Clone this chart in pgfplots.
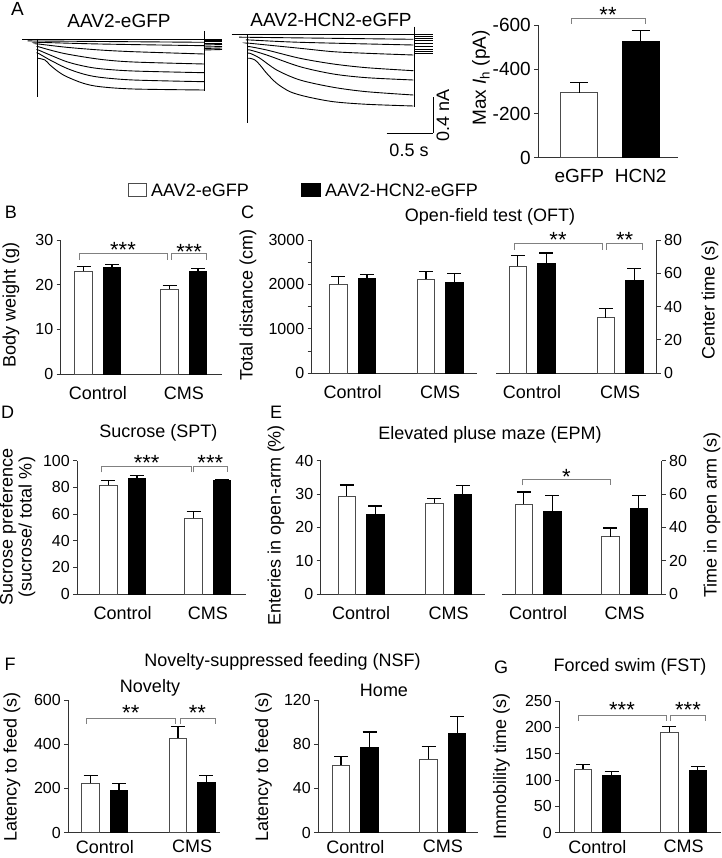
\documentclass[border=0pt]{standalone}
\usepackage{fontspec}
\setmainfont{Liberation Sans}
\usepackage{pgfplots}
\pgfplotsset{compat=1.18}

\newcommand\fl{\fontsize{18}{21}\selectfont}
\newcommand\ft{\fontsize{16}{18}\selectfont}
\newcommand\fa{\fontsize{19}{22}\selectfont}
\newcommand\fs{\fontsize{22}{22}\selectfont}

\pgfplotsset{
  panel/.style={
    scale only axis, clip=false,
    axis x line*=bottom, axis y line*=left,
    axis line style={black!80, line width=1pt},
    tick style={black!80, line width=1pt},
    tick align=outside, major tick length=4pt, minor tick length=4pt,
    ymin=0,
    xtick={1,2}, xticklabels={Control,CMS},
    xtick style={draw=none},
    xticklabel style={font=\fl, yshift=-5pt},
    yticklabel style={font=\ft},
    /pgf/number format/assume math mode=true,
    /pgf/number format/1000 sep={},
    ybar=11pt, bar width=17.5pt,
    error bars/y dir=plus, error bars/y explicit,
    error bars/error mark=|,
    error bars/error bar style={black, line width=1.2pt},
    error bars/error mark options={black, line width=1.2pt, mark size=7pt},
  },
  wbar/.style={fill=white, draw=black!70, line width=1pt},
  kbar/.style={fill=black, draw=black, line width=1pt},
  trace/.style={black, line width=0.9pt, smooth, tension=0.5, no marks},
  tline/.style={black, line width=0.9pt, no marks},
}

\begin{document}
\begin{tikzpicture}
\useasboundingbox (0pt,0pt) rectangle (721pt,-858pt);

% ---------- A: current traces ----------
\begin{axis}[at={(0pt,-140pt)}, anchor=south west, scale only axis,
  width=460pt, height=140pt, xmin=0, xmax=460, ymin=0, ymax=140,
  y dir=reverse, hide axis, clip=false]
% AAV2-eGFP
\addplot[tline] coordinates {(22,39) (222,39)};
\addplot[tline] coordinates {(37,39) (37,97)};
\addplot[tline] coordinates {(204,31) (204,91)};
\addplot[trace] coordinates {(37,41) (38.3,41) (204,42.3)};
\addplot[trace] coordinates {(37,42.3) (38.3,42.3) (100,44) (204,45.7)};
\addplot[trace] coordinates {(37,44) (38.3,44) (66.7,47.3) (100,50) (133.3,51.7) (204,54)};
\addplot[trace] coordinates {(37,46.7) (38.3,46.7) (50,50) (66.7,54) (100,59.3) (133.3,62) (204,64)};
\addplot[trace] coordinates {(37,50) (38.3,50) (50,55) (66.7,61.7) (83.3,66) (100,68.7) (133.3,71) (204,72.7)};
\addplot[trace] coordinates {(37,53.3) (38.3,53.3) (50,60) (66.7,68.3) (83.3,74) (100,77.3) (133.3,80) (204,81.7)};
\addplot[trace] coordinates {(37,58.3) (38.3,58.3) (45,60) (50,65) (58.3,71.7) (66.7,76.7) (83.3,83.3) (100,86.7) (133.3,89) (204,90)};
\addplot[tline] coordinates {(204,40) (222,40)};
\addplot[tline] coordinates {(204,41.5) (222,41.5)};
\addplot[tline] coordinates {(204,43) (222,43)};
\addplot[tline] coordinates {(204,45) (222,44.5)};
\addplot[tline] coordinates {(204,47) (222,46.5)};
\addplot[tline] coordinates {(204,48.5) (222,48)};
\addplot[tline] coordinates {(204,50) (222,49.5)};
% AAV2-HCN2-eGFP
\addplot[tline] coordinates {(231.7,34.3) (433.3,34.3)};
\addplot[tline] coordinates {(247.3,34.3) (247.3,123.3)};
\addplot[tline] coordinates {(414,26.7) (414,106.7)};
\addplot[trace] coordinates {(247.3,37.3) (250,37.3) (413.3,39.3)};
\addplot[trace] coordinates {(247.3,40) (250,40) (300,42.3) (413.3,45)};
\addplot[trace] coordinates {(247.3,43.3) (250,43.3) (300,48.3) (333.3,51.7) (366.7,53.3) (413.3,55)};
\addplot[trace] coordinates {(247.3,46.7) (250,46.7) (266.7,50) (300,58.3) (333.3,64) (366.7,67.7) (413.3,70.7)};
\addplot[trace] coordinates {(247.3,50) (250,50) (266.7,55) (300,66.7) (333.3,74) (366.7,77.7) (413.3,80)};
\addplot[trace] coordinates {(247.3,53.3) (250,53.3) (260,58.3) (276.7,70) (300,80) (333.3,87.3) (366.7,91.7) (413.3,95)};
\addplot[trace] coordinates {(247.3,58.3) (250,58.3) (255,60) (260,65) (266.7,73.3) (276.7,83.3) (290,91.7) (306.7,96.7) (333.3,101.7) (366.7,104.3) (413.3,106)};
\addplot[tline] coordinates {(414,36.7) (433.3,36.7)};
\addplot[tline] coordinates {(414,38.5) (433.3,38.5)};
\addplot[tline] coordinates {(414,40.5) (433.3,40.5)};
\addplot[tline] coordinates {(414,43) (433.3,43)};
\addplot[tline] coordinates {(414,46) (433.3,46)};
\addplot[tline] coordinates {(414,49) (433.3,49)};
\addplot[tline] coordinates {(414,51.5) (433.3,51.5)};
\addplot[tline] coordinates {(414,53.3) (433.3,53.3)};
% scale bars
\addplot[tline] coordinates {(433.3,97.3) (433.3,133.3)};
\addplot[tline] coordinates {(386.7,133.3) (433.3,133.3)};
\end{axis}

% ---------- A: Max Ih ----------
\begin{axis}[panel, at={(538.3pt,-157.7pt)}, anchor=south west,
  width=139.4pt, height=132.7pt, ymin=0, ymax=600,
  ytick={0,200,400,600}, yticklabels={0,-200,-400,-600},
  yticklabel style={font=\fa},
  xmin=0.332, xmax=2.603, xtick={1,2}, xticklabels={eGFP,HCN2},
  xticklabel style={font=\fa, yshift=1pt},
  bar width=36.7pt, bar shift=0pt,
  error bars/error mark options={black, line width=1.2pt, mark size=9pt}]
\addplot[wbar] coordinates {(1,294) +- (0,47)};
\addplot[kbar] coordinates {(2,524) +- (0,50)};
\end{axis}

% ---------- B ----------
\begin{axis}[panel, at={(60.7pt,-374pt)}, anchor=south west,
  width=161pt, height=134pt, ymax=30, ytick={0,10,20,30},
  xmin=0.569, xmax=2.441]
\addplot[wbar] coordinates {(1,23.0) +- (0,1.0) (2,19.0) +- (0,0.8)};
\addplot[kbar] coordinates {(1,23.9) +- (0,0.6) (2,23.0) +- (0,0.7)};
\end{axis}

% ---------- C left ----------
\begin{axis}[panel, at={(311.7pt,-373.3pt)}, anchor=south west,
  width=165pt, height=133.3pt, ymax=3000, ytick={0,1000,2000,3000},
  minor y tick num=1, xmin=0.531, xmax=2.417]
\addplot[wbar] coordinates {(1,2000) +- (0,171) (2,2112) +- (0,180)};
\addplot[kbar] coordinates {(1,2135) +- (0,90) (2,2045) +- (0,202)};
\end{axis}

% ---------- C right ----------
\begin{axis}[panel, axis y line*=right, at={(496pt,-373.3pt)}, anchor=south west,
  width=160.7pt, height=133.3pt, ymax=80, ytick={0,20,40,60,80},
  xmin=0.591, xmax=2.417]
\addplot[wbar] coordinates {(1,64.2) +- (0,6.4) (2,33.4) +- (0,5.4)};
\addplot[kbar] coordinates {(1,66.0) +- (0,6.2) (2,55.6) +- (0,7.4)};
\end{axis}

% ---------- D ----------
\begin{axis}[panel, at={(77.3pt,-594pt)}, anchor=south west,
  width=168.7pt, height=133.3pt, ymax=100, ytick={0,20,40,60,80,100},
  xmin=0.467, xmax=2.447]
\addplot[wbar] coordinates {(1,81.5) +- (0,3.8) (2,56.8) +- (0,4.9)};
\addplot[kbar] coordinates {(1,86.8) +- (0,1.9) (2,85.0) +- (0,1.0)};
\end{axis}

% ---------- E left ----------
\begin{axis}[panel, at={(320.7pt,-594pt)}, anchor=south west,
  width=164.3pt, height=133.3pt, ymax=40, ytick={0,10,20,30,40},
  xmin=0.539, xmax=2.417]
\addplot[wbar] coordinates {(1,29.4) +- (0,3.3) (2,27.2) +- (0,1.4)};
\addplot[kbar] coordinates {(1,23.9) +- (0,2.5) (2,30.0) +- (0,2.6)};
\end{axis}

% ---------- E right ----------
\begin{axis}[panel, axis y line*=right, at={(502pt,-594pt)}, anchor=south west,
  width=159.7pt, height=133.3pt, ymax=80, ytick={0,20,40,60,80},
  xmin=0.584, xmax=2.428]
\addplot[wbar] coordinates {(1,53.8) +- (0,7.4) (2,34.4) +- (0,5.2)};
\addplot[kbar] coordinates {(1,49.4) +- (0,9.6) (2,51.2) +- (0,7.8)};
\end{axis}

% ---------- F novelty ----------
\begin{axis}[panel, at={(68.3pt,-832.7pt)}, anchor=south west,
  width=151.7pt, height=132.7pt, ymax=600, ytick={0,200,400,600},
  xmin=0.582, xmax=2.318, xticklabel style={yshift=5pt}]
\addplot[wbar] coordinates {(1,223) +- (0,35) (2,427) +- (0,53)};
\addplot[kbar] coordinates {(1,193) +- (0,30) (2,226) +- (0,32)};
\end{axis}

% ---------- F home ----------
\begin{axis}[panel, at={(318.3pt,-832.7pt)}, anchor=south west,
  width=159.7pt, height=132.7pt, ymax=120, ytick={0,40,80,120},
  xmin=0.578, xmax=2.4, xticklabel style={yshift=5pt}]
\addplot[wbar] coordinates {(1,61) +- (0,8) (2,66.4) +- (0,11.2)};
\addplot[kbar] coordinates {(1,77) +- (0,14) (2,90) +- (0,15)};
\end{axis}

% ---------- G ----------
\begin{axis}[panel, at={(559.3pt,-832.7pt)}, anchor=south west,
  width=161.7pt, height=131.7pt, ymax=250, ytick={0,50,100,150,200,250},
  xmin=0.56, xmax=2.433, xticklabel style={yshift=5pt}]
\addplot[wbar] coordinates {(1,120) +- (0,10) (2,190.6) +- (0,11.4)};
\addplot[kbar] coordinates {(1,109) +- (0,7) (2,119) +- (0,6)};
\end{axis}

% ---------- annotations ----------
\begin{scope}[x=1pt, y=-1pt]
\tikzset{br/.style={black!50, line width=1pt}}
% brackets
\draw[br] (571,24)--(571,18.3)--(645.7,18.3)--(645.7,24);
\draw[br] (79,260)--(79,254)--(167.3,254)--(167.3,260);
\draw[br] (171.7,260)--(171.7,254)--(206.7,254)--(206.7,260);
\draw[br] (514,250)--(514,244)--(602.3,244)--(602.3,250);
\draw[br] (606.7,250)--(606.7,244)--(642.7,244)--(642.7,250);
\draw[br] (101.7,472.3)--(101.7,466.7)--(191.7,466.7)--(191.7,472.3);
\draw[br] (193.3,472.3)--(193.3,466.7)--(227.3,466.7)--(227.3,472.3);
\draw[br] (522.3,485.3)--(522.3,479.3)--(610.7,479.3)--(610.7,485.3);
\draw[br] (86.7,724)--(86.7,718)--(175,718)--(175,724);
\draw[br] (180,724)--(180,718)--(215,718)--(215,724);
\draw[br] (578.3,721)--(578.3,715)--(666,715)--(666,721);
\draw[br] (670.7,721)--(670.7,715)--(705,715)--(705,721);
% stars
\node[font=\fs] at (608,15) {**};
\node[font=\fs] at (123,250) {***};
\node[font=\fs] at (189.2,251.7) {***};
\node[font=\fs] at (558,240) {**};
\node[font=\fs] at (624.7,240) {**};
\node[font=\fs] at (146.7,463.3) {***};
\node[font=\fs] at (210.3,463.3) {***};
\node[font=\fs] at (566.5,476.7) {*};
\node[font=\fs] at (130.8,713.3) {**};
\node[font=\fs] at (197.5,713.3) {**};
\node[font=\fs] at (622,710) {***};
\node[font=\fs] at (688,710) {***};
% panel A texts
\node[font=\fa] at (17.5,9) {A};
\node[font=\fa] at (119,21) {AAV2-eGFP};
\node[font=\fa] at (331,20) {AAV2-HCN2-eGFP};
\node[font=\fl] at (409,150) {0.5 s};
\node[font=\fl, rotate=90] at (443,115) {0.4 nA};
\node[font=\fa, rotate=90] at (481,78) {Max \textit{I}\textsubscript{h} (pA)};
% legend
\draw[black!70, line width=1pt, fill=white] (128,184) rectangle (146,197);
\node[font=\fl, anchor=west, inner sep=0pt] at (151,190) {AAV2-eGFP};
\draw[black, line width=1pt, fill=black] (301,184) rectangle (320,197);
\node[font=\fl, anchor=west, inner sep=0pt] at (325,190) {AAV2-HCN2-eGFP};
% panel letters
\node[font=\fl] at (11,212.5) {B};
\node[font=\fl] at (247.5,212.5) {C};
\node[font=\fl] at (7.5,412.5) {D};
\node[font=\fl] at (276,412.5) {E};
\node[font=\fl] at (10,664) {F};
\node[font=\fl] at (501,667.5) {G};
% titles
\node[font=\fl] at (490,216.7) {Open-field test (OFT)};
\node[font=\fl] at (158.3,433.3) {Sucrose (SPT)};
\node[font=\fl] at (490,435) {Elevated pluse maze (EPM)};
\node[font=\fl] at (282.5,661.7) {Novelty-suppressed feeding (NSF)};
\node[font=\fl] at (150,688.3) {Novelty};
\node[font=\fl] at (384,690) {Home};
\node[font=\fl] at (630,666.7) {Forced swim (FST)};
% y labels
\node[font=\fl, rotate=90] at (11,305) {Body weight (g)};
\node[font=\fl, rotate=90] at (248,305) {Total distance (cm)};
\node[font=\fl, rotate=90] at (710,300) {Center time (s)};
\node[font=\fl, rotate=90] at (8,527) {Sucrose preference};
\node[font=\fl, rotate=90] at (27,527) {(sucrose/ total \%)};
\node[font=\fl, rotate=90] at (276,525) {Enteries in open-arm (\%)};
\node[font=\fl, rotate=90] at (712,515) {Time in open arm (s)};
\node[font=\fl, rotate=90] at (12,767) {Latency to feed (s)};
\node[font=\fl, rotate=90] at (263.5,767) {Latency to feed (s)};
\node[font=\fl, rotate=90] at (501.5,766) {Immobility time (s)};
\end{scope}
\end{tikzpicture}
\end{document}
